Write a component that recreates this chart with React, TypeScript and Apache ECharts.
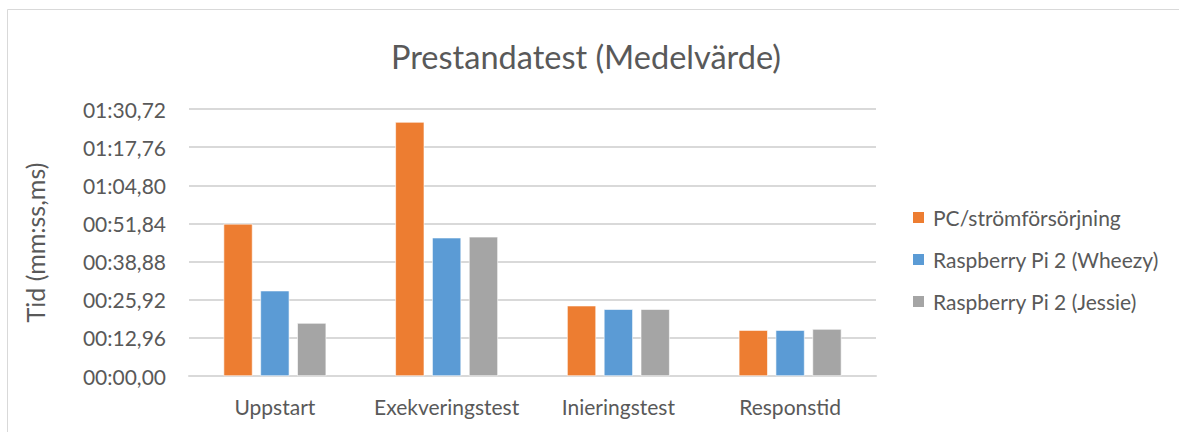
import React, { useEffect, useRef } from "react";
import * as echarts from "echarts";

const categories = ["Uppstart", "Exekveringstest", "Inieringstest", "Responstid"];
const seriesNames = ["PC/strömförsörjning", "Raspberry Pi 2 (Wheezy)", "Raspberry Pi 2 (Jessie)"];
const pcValues = [51.7, 86.3, 23.9, 15.6];
const wheezyValues = [29.0, 47.0, 22.7, 15.6];
const jessieValues = [18.0, 47.3, 22.7, 15.95];
const seriesColors = ["#ED7D31", "#5B9BD5", "#A5A5A5"];
const yMax = 90.72;
const yInterval = 12.96;

const FONT = "Lato";

function fmtTime(v: number): string {
  const total = Math.round(v * 100);
  const m = Math.floor(total / 6000);
  const rest = total - m * 6000;
  const s = Math.floor(rest / 100);
  const cs = rest - s * 100;
  const p = (n: number) => (n < 10 ? "0" + n : "" + n);
  return `${p(m)}:${p(s)},${p(cs)}`;
}

export default function App() {
  const ref = useRef<HTMLDivElement>(null);
  useEffect(() => {
    if (!ref.current) return;
    const chart = echarts.init(ref.current, null, { renderer: "svg" });
    const data = [pcValues, wheezyValues, jessieValues];
    chart.setOption({
      animation: false,
      backgroundColor: "#ffffff",
      textStyle: { fontFamily: FONT, color: "#595959" },
      title: {
        text: "Prestandatest (Medelvärde)",
        left: 581,
        textAlign: "center",
        top: 35,
        textStyle: { fontFamily: FONT, fontSize: 32.5, fontWeight: "normal", color: "#595959" },
      },
      graphic: [
        {
          type: "rect",
          shape: { x: 7.5, y: 9.5, width: 1300, height: 600 },
          style: { fill: "none", stroke: "#D9D9D9", lineWidth: 1 },
          silent: true,
        },
      ],
      legend: {
        orient: "vertical",
        left: 906,
        top: 202,
        itemWidth: 13,
        itemHeight: 13,
        itemGap: 21,
        icon: "rect",
        data: seriesNames,
        textStyle: { fontFamily: FONT, fontSize: 21, color: "#595959", padding: [0, 0, 0, 3] },
      },
      grid: { left: 189, right: 303, top: 109, bottom: 56, containLabel: false },
      xAxis: {
        type: "category",
        data: categories,
        axisLine: { lineStyle: { color: "#D9D9D9", width: 2 } },
        axisTick: { show: false },
        axisLabel: { fontFamily: FONT, fontSize: 21, color: "#595959", margin: 20, interval: 0, hideOverlap: false },
      },
      yAxis: {
        type: "value",
        min: 0,
        max: yMax,
        interval: yInterval,
        name: "Tid (mm:ss,ms)",
        nameLocation: "middle",
        nameGap: 142,
        nameRotate: 90,
        nameTextStyle: { fontFamily: FONT, fontSize: 25, color: "#595959" },
        axisLine: { show: false },
        axisTick: { show: false },
        splitLine: { lineStyle: { color: "#D9D9D9", width: 2 } },
        axisLabel: {
          fontFamily: FONT,
          fontSize: 21,
          color: "#595959",
          margin: 23,
          formatter: (v: number) => fmtTime(v),
        },
      },
      series: seriesNames.map((name, i) => ({
        name,
        type: "bar",
        data: data[i],
        barWidth: 29,
        barGap: "27%",
        itemStyle: { color: seriesColors[i], borderColor: "#ffffff", borderWidth: 0.6 },
      })),
    });
    return () => chart.dispose();
  }, []);
  return (
    <div
      ref={ref}
      style={{ position: "fixed", left: 0, top: 0, width: 1179, height: 432 }}
    />
  );
}
